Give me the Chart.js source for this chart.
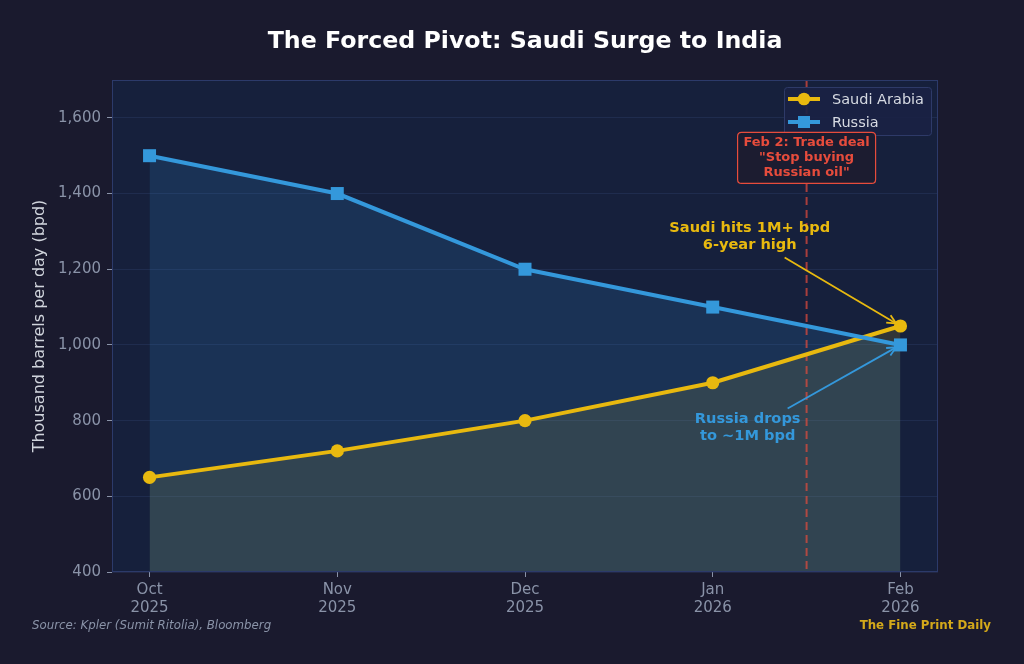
<!DOCTYPE html>
<html><head><meta charset="utf-8">
<script src="https://cdn.jsdelivr.net/npm/chart.js@4.4.1/dist/chart.umd.min.js"></script>
<style>html,body{margin:0;padding:0;background:#1a1a2e;}#wrap{width:1024px;height:664px;}</style>
</head><body><div id="wrap"><canvas id="c" width="1024" height="664"></canvas></div>
<script>
const titleText = 'The Forced Pivot: Saudi Surge to India';
const months = [['Oct','2025'],['Nov','2025'],['Dec','2025'],['Jan','2026'],['Feb','2026']];
const saudi = [650, 720, 800, 900, 1050];
const russia = [1500, 1400, 1200, 1100, 1000];
const yTicks = [400, 600, 800, 1000, 1200, 1400, 1600];
const dealX = 3.5;
const dealText = ['Feb 2: Trade deal', '"Stop buying', 'Russian oil"'];
const saudiNote = ['Saudi hits 1M+ bpd', '6-year high'];
const russiaNote = ['Russia drops', 'to ~1M bpd'];

const GOLD = '#e8b90f', BLUE = '#3498db', RED = '#e74c3c';
const FONT = '"DejaVu Sans", sans-serif';

const pts = arr => arr.map((v,i)=>({x:i,y:v}));

const deco = {
  id:'deco',
  beforeDraw(chart){
    const {ctx, chartArea:a} = chart;
    ctx.save();
    ctx.fillStyle='#1a1a2e'; ctx.fillRect(0,0,chart.width,chart.height);
    ctx.fillStyle='#16203c'; ctx.fillRect(a.left,a.top,a.right-a.left,a.bottom-a.top);
    ctx.font='bold 23.7px '+FONT; ctx.fillStyle='#ffffff'; ctx.textAlign='center'; ctx.textBaseline='middle';
    ctx.fillText(titleText,(a.left+a.right)/2,42);
    ctx.restore();
  },
  beforeDatasetsDraw(chart){
    const {ctx, chartArea:a, scales:{x}} = chart;
    ctx.save();
    const px = x.getPixelForValue(dealX);
    ctx.strokeStyle='rgba(231,76,60,0.7)'; ctx.lineWidth=2; ctx.setLineDash([8,5]);
    ctx.beginPath(); ctx.moveTo(px,a.top); ctx.lineTo(px,a.bottom); ctx.stroke();
    ctx.restore();
  },
  afterDraw(chart){
    const {ctx, chartArea:a, scales:{x,y}} = chart;
    ctx.save();
    ctx.strokeStyle='#2c3a6a'; ctx.lineWidth=1;
    ctx.strokeRect(a.left+0.5,a.top+0.5,a.right-a.left-1,a.bottom-a.top-1);
    // legend
    const lx=784, ly=87, lw=147, lh=48;
    ctx.fillStyle='rgba(26,34,68,0.92)'; ctx.strokeStyle='#2e3a68'; ctx.lineWidth=1;
    roundRect(ctx,lx+0.5,ly+0.5,lw,lh,3); ctx.fill(); ctx.stroke();
    const ds = chart.data.datasets;
    [0,1].forEach(i=>{
      const yy = ly+12+i*23;
      ctx.strokeStyle=ds[i].borderColor; ctx.lineWidth=4; ctx.setLineDash([]);
      ctx.beginPath(); ctx.moveTo(lx+4,yy); ctx.lineTo(lx+36,yy); ctx.stroke();
      ctx.fillStyle=ds[i].borderColor;
      if(i===0){ctx.beginPath();ctx.arc(lx+20,yy,6.3,0,Math.PI*2);ctx.fill();}
      else ctx.fillRect(lx+14,yy-6,12,12);
      ctx.fillStyle='#d6dae2'; ctx.font='14.5px '+FONT; ctx.textAlign='left'; ctx.textBaseline='middle';
      ctx.fillText(ds[i].label, lx+48, yy+1);
    });
    // deal box
    const bx = x.getPixelForValue(dealX), by = y.getPixelForValue(1494);
    ctx.font='bold 13px '+FONT; ctx.textAlign='center'; ctx.textBaseline='middle';
    const bw=138, bh=51;
    ctx.fillStyle='#1c1c30'; ctx.strokeStyle=RED; ctx.lineWidth=1.2;
    roundRect(ctx,bx-bw/2,by-bh/2,bw,bh,4); ctx.fill(); ctx.stroke();
    ctx.fillStyle=RED;
    dealText.forEach((t,i)=>ctx.fillText(t,bx,by-15+i*15));
    note(ctx,x,y,saudiNote,GOLD,3.197,1286,3.383,1231,4,1050);
    note(ctx,x,y,russiaNote,BLUE,3.186,782,3.399,832,4,1000);
    // footer
    ctx.font='italic 11.8px '+FONT; ctx.fillStyle='#8a93a8'; ctx.textAlign='left';
    ctx.fillText('Source: Kpler (Sumit Ritolia), Bloomberg',32,626);
    ctx.font='bold 11.8px '+FONT; ctx.fillStyle='#d4a91a'; ctx.textAlign='right';
    ctx.fillText('The Fine Print Daily',991,626);
    ctx.restore();
  }
};
function note(ctx,x,y,lines,col,tx,ty,ax,ay,px,py){
  const cx=x.getPixelForValue(tx), cy=y.getPixelForValue(ty);
  ctx.font='bold 14.6px '+FONT; ctx.fillStyle=col; ctx.textAlign='center'; ctx.textBaseline='middle';
  lines.forEach((t,i)=>ctx.fillText(t,cx,cy-8.5+i*17));
  const x0=x.getPixelForValue(ax), y0=y.getPixelForValue(ay);
  let x1=x.getPixelForValue(px), y1=y.getPixelForValue(py);
  const ang=Math.atan2(y1-y0,x1-x0);
  x1-=Math.cos(ang)*5; y1-=Math.sin(ang)*5;
  ctx.strokeStyle=col; ctx.lineWidth=1.8; ctx.setLineDash([]);
  ctx.beginPath(); ctx.moveTo(x0,y0); ctx.lineTo(x1,y1); ctx.stroke();
  ctx.beginPath();
  ctx.moveTo(x1-Math.cos(ang-0.45)*10,y1-Math.sin(ang-0.45)*10);
  ctx.lineTo(x1,y1);
  ctx.lineTo(x1-Math.cos(ang+0.45)*10,y1-Math.sin(ang+0.45)*10);
  ctx.stroke();
}
function roundRect(ctx,x,y,w,h,r){
  ctx.beginPath();ctx.moveTo(x+r,y);ctx.lineTo(x+w-r,y);ctx.quadraticCurveTo(x+w,y,x+w,y+r);
  ctx.lineTo(x+w,y+h-r);ctx.quadraticCurveTo(x+w,y+h,x+w-r,y+h);ctx.lineTo(x+r,y+h);
  ctx.quadraticCurveTo(x,y+h,x,y+h-r);ctx.lineTo(x,y+r);ctx.quadraticCurveTo(x,y,x+r,y);ctx.closePath();
}

new Chart(document.getElementById('c'),{
  type:'line',
  data:{datasets:[
    {label:'Saudi Arabia', data:pts(saudi), borderColor:GOLD, backgroundColor:'rgba(230,185,30,0.14)',
     fill:'start', borderWidth:4, pointRadius:6.6, pointHoverRadius:6.6, pointBorderWidth:0, pointBackgroundColor:GOLD, pointBorderColor:GOLD, pointStyle:'circle', order:2},
    {label:'Russia', data:pts(russia), borderColor:BLUE, backgroundColor:'rgba(52,152,219,0.16)',
     fill:'start', borderWidth:4, pointRadius:9.2, pointHoverRadius:9.2, pointBorderWidth:0, pointBackgroundColor:BLUE, pointBorderColor:BLUE, pointStyle:'rect', order:1}
  ]},
  options:{
    responsive:false, animation:false, devicePixelRatio:1,
    layout:{padding:{left:0,right:86,top:80,bottom:0}},
    plugins:{
      legend:{display:false}, tooltip:{enabled:false}, title:{display:false},
      filler:{drawTime:'beforeDatasetsDraw'}
    },
    scales:{
      x:{type:'linear', min:-0.2, max:4.2,
        afterBuildTicks:s=>{s.ticks=months.map((m,i)=>({value:i}));},
        afterFit:s=>{s.height=92;},
        ticks:{callback:(v)=>months[v]||'', color:'#8a93a8', font:{family:FONT,size:15}, padding:4, maxRotation:0, autoSkip:false},
        grid:{drawOnChartArea:false, color:'#8a93a8', tickLength:5},
        border:{display:false}
      },
      y:{min:400, max:1700,
        afterBuildTicks:s=>{s.ticks=yTicks.map(v=>({value:v}));},
        afterFit:s=>{s.width=112;},
        ticks:{callback:v=>v.toLocaleString('en-US'), color:'#8a93a8', font:{family:FONT,size:15}, padding:6},
        grid:{color:'rgba(60,80,130,0.25)', tickColor:'#8a93a8', tickLength:5},
        border:{display:false},
        title:{display:true, text:'Thousand barrels per day (bpd)', color:'#d0d4dc', font:{family:FONT,size:16}, padding:{top:30,bottom:0}}
      }
    }
  },
  plugins:[deco]
});
</script></body></html>
